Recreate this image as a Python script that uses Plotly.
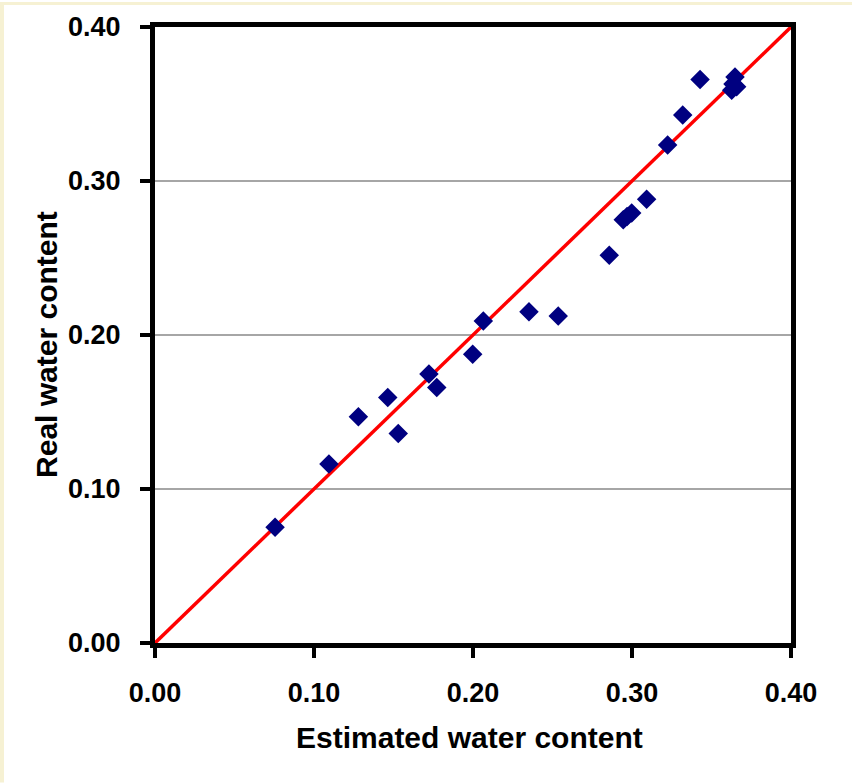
import plotly.graph_objects as go

# Estimated vs. measured soil water content
estimated = [0.0755, 0.1094, 0.1279, 0.1464, 0.1530, 0.1723, 0.1772, 0.1998,
             0.2065, 0.2352, 0.2536, 0.2857, 0.2945, 0.2969, 0.2998, 0.3092,
             0.3224, 0.3319, 0.3428, 0.3648, 0.3658, 0.3627, 0.3635]
real = [0.0751, 0.1163, 0.1469, 0.1594, 0.1361, 0.1746, 0.1659, 0.1875,
        0.2091, 0.2151, 0.2123, 0.2518, 0.2749, 0.2770, 0.2792, 0.2882,
        0.3234, 0.3428, 0.3659, 0.3676, 0.3612, 0.3590, 0.3630]

# 1:1 reference line
line_x = [0.0, 0.4]
line_y = [0.0, 0.4]

tick_vals = [0.0, 0.1, 0.2, 0.3, 0.4]
tick_text = ["0.00", "0.10", "0.20", "0.30", "0.40"]

FONT = "Liberation Sans, Arial, sans-serif"

fig = go.Figure()
fig.add_trace(go.Scatter(x=line_x, y=line_y, mode="lines",
                         line=dict(color="#FF0000", width=3.5),
                         hoverinfo="skip", showlegend=False))
fig.add_trace(go.Scatter(x=estimated, y=real, mode="markers",
                         marker=dict(symbol="diamond", size=15, color="#000080",
                                     line=dict(width=0)),
                         showlegend=False))

axis_common = dict(
    range=[0, 0.4], tickvals=tick_vals, ticktext=tick_text,
    showline=True, linecolor="black", linewidth=5, mirror=True,
    ticks="outside", ticklen=10, tickwidth=4, tickcolor="black",
    tickfont=dict(family=FONT, size=27, color="black", weight="bold"),
    zeroline=False, fixedrange=True,
)

fig.update_xaxes(**axis_common, showgrid=False, ticklabelstandoff=12)
fig.update_yaxes(**axis_common, showgrid=True, gridcolor="#A6A6A6", gridwidth=1.5,
                 ticklabelstandoff=14)

W, H = 852, 783
L, R, T, B = 155, 61, 25, 140
pw, ph = W - L - R, H - T - B

def px_x(p):
    return (p - L) / pw

def px_y(p):
    return (H - B - p) / ph

fig.update_layout(
    width=W, height=H,
    margin=dict(l=L, r=R, t=T, b=B),
    paper_bgcolor="white", plot_bgcolor="white",
    shapes=[
        dict(type="rect", xref="paper", yref="paper", layer="below",
             x0=px_x(0), x1=px_x(4), y0=px_y(H), y1=px_y(0),
             fillcolor="#F6F1D3", line=dict(width=0)),
        dict(type="rect", xref="paper", yref="paper", layer="below",
             x0=px_x(0), x1=px_x(W), y0=px_y(3), y1=px_y(0),
             fillcolor="#F6F1D3", line=dict(width=0)),
    ],
    annotations=[
        dict(text="Estimated water content", xref="paper", yref="paper",
             x=px_x(469), y=px_y(738), showarrow=False,
             xanchor="center", yanchor="middle",
             font=dict(family=FONT, size=30, color="black", weight="bold")),
        dict(text="Real water content", xref="paper", yref="paper",
             x=px_x(47), y=px_y(344), showarrow=False, textangle=-90,
             xanchor="center", yanchor="middle",
             font=dict(family=FONT, size=30, color="black", weight="bold")),
    ],
)

fig.write_html("out.html")
